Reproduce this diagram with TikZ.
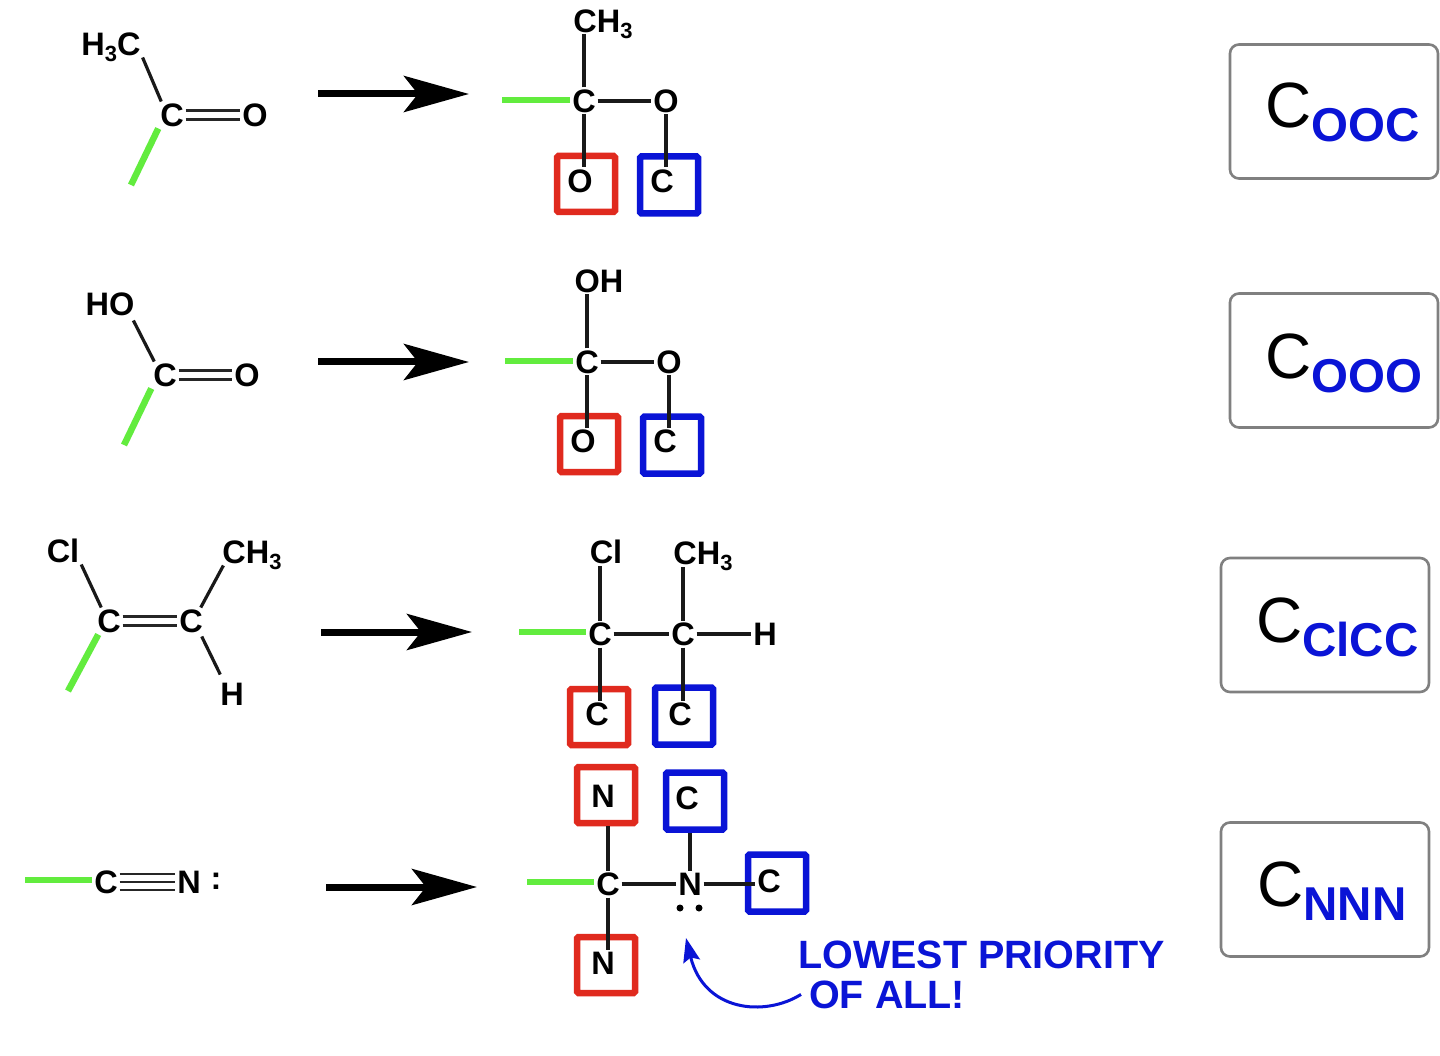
\documentclass[tikz,border=0pt]{standalone}
\usepackage{fontspec}
\setmainfont{Liberation Sans}
\newfontfamily\thinfam{Liberation Sans}
\usetikzlibrary{arrows.meta}
\definecolor{grn}{HTML}{62EC3E}
\definecolor{rd}{HTML}{E02A1E}
\definecolor{bl}{HTML}{0A14D6}
\definecolor{frame}{HTML}{808080}
\newcommand{\subn}[1]{\raisebox{-6pt}{\fontsize{22}{22}\selectfont #1}}
\newcommand{\lab}[2]{{\thinfam\fontsize{64}{64}\selectfont #1}\raisebox{-14pt}{\color{bl}\bfseries\fontsize{47.5}{47.5}\selectfont #2}}
\tikzset{
 atom/.style={inner sep=0pt,outer sep=2pt,text height=23pt,text depth=0pt,text=black,font=\bfseries\fontsize{32.5}{32.5}\selectfont},
 bond/.style={line width=3.2pt,black!90},
 dbl/.style={line width=2.8pt,black!85},
 sub/.style={line width=6.5pt,grn,line cap=butt},
 bigarrow/.style={line width=7pt,black,-{Stealth[length=65pt,width=36pt,inset=14pt]}},
 redbox/.style={draw=rd,line width=6.5pt,minimum width=58pt,minimum height=56pt,inner sep=0pt,rounded corners=1.5pt},
 blubox/.style={draw=bl,line width=6.5pt,minimum width=58pt,minimum height=57pt,inner sep=0pt,rounded corners=1.5pt},
 card/.style={draw=frame,line width=2.6pt,rounded corners=9pt,minimum width=208pt,minimum height=134pt,inner sep=0pt,fill=white},
 cardlab/.style={anchor=base west,inner sep=0pt},
 note/.style={text=bl,inner sep=0pt,font=\bfseries\fontsize{39.5}{39.5}\selectfont},
 pair/.style={circle,fill=black,inner sep=0pt,minimum size=7pt},
}
\begin{document}
\begin{tikzpicture}[x=1pt,y=-1pt]
\useasboundingbox (0,0) rectangle (1440,1056);
\fill[white] (0,0) rectangle (1440,1056);
% ---------- boxes ----------
\node[redbox] (r1) at (586,184) {};
\node[blubox] (b1) at (669,185) {};
\node[redbox] (r2) at (589,444) {};
\node[blubox] (b2) at (672,445) {};
\node[redbox] (r3) at (599,717) {};
\node[blubox] (b3) at (684,716) {};
\node[redbox] (r4) at (606,795) {};
\node[blubox] (b4) at (695,801) {};
\node[blubox] (b5) at (777,883) {};
\node[redbox] (r5) at (606,965) {};
% ---------- row 1 ----------
\node[atom] (a1h) at (111,44) {H\subn{3}C};
\node[atom] (a1c) at (172,115) {C};
\node[atom] (a1o) at (255,115) {O};
\coordinate (a1g) at (131,185);
\draw[bond] (a1h.south east) -- ([xshift=3pt]a1c.north west);
\draw[dbl] ([yshift=4.5pt]a1c.east) -- ([yshift=4.5pt]a1o.west);
\draw[dbl] ([yshift=-4.5pt]a1c.east) -- ([yshift=-4.5pt]a1o.west);
\draw[sub] (a1c.south west) -- (a1g);
\coordinate (p1s) at (318,94); \coordinate (p1e) at (469,94);
\draw[bigarrow] (p1s) -- (p1e);
\node[atom] (t1m) at (603,21) {CH\subn{3}};
\node[atom] (t1c) at (584,101) {C};
\node[atom] (t1o) at (666,101) {O};
\node[atom] (t1x) at (580,181) {O};
\node[atom] (t1y) at (662,181) {C};
\coordinate (t1g) at (502,100);
\draw[sub] (t1g) -- (t1g -| t1c.west);
\draw[bond] (t1c.north) -- (t1c.north |- t1m.south);
\draw[bond] (t1c.east) -- (t1o.west);
\draw[bond] (t1c.south) -- (t1c.south |- t1x.north);
\draw[bond] (t1o.south) -- (t1o.south |- t1y.north);
\node[card] (c1) at (1334,111.5) {};
\node[cardlab] (l1) at (1265,128) {\lab{C}{OOC}};
% ---------- row 2 ----------
\node[atom] (a2h) at (110,304) {HO};
\node[atom] (a2c) at (165,375) {C};
\node[atom] (a2o) at (247,375) {O};
\coordinate (a2g) at (124,445);
\draw[bond] ([xshift=-3pt,yshift=-3pt]a2h.south east) -- ([xshift=3pt]a2c.north west);
\draw[dbl] ([yshift=4.5pt]a2c.east) -- ([yshift=4.5pt]a2o.west);
\draw[dbl] ([yshift=-4.5pt]a2c.east) -- ([yshift=-4.5pt]a2o.west);
\draw[sub] (a2c.south west) -- (a2g);
\coordinate (p2s) at (318,362); \coordinate (p2e) at (469,362);
\draw[bigarrow] (p2s) -- (p2e);
\node[atom] (t2m) at (599,281) {OH};
\node[atom] (t2c) at (587,362) {C};
\node[atom] (t2o) at (669,362) {O};
\node[atom] (t2x) at (583,441) {O};
\node[atom] (t2y) at (665,441) {C};
\coordinate (t2g) at (505,361);
\draw[sub] (t2g) -- (t2g -| t2c.west);
\draw[bond] (t2c.north) -- (t2c.north |- t2m.south);
\draw[bond] (t2c.east) -- (t2o.west);
\draw[bond] (t2c.south) -- (t2c.south |- t2x.north);
\draw[bond] (t2o.south) -- (t2o.south |- t2y.north);
\node[card] (c2) at (1334,360.5) {};
\node[cardlab] (l2) at (1265,378) {\lab{C}{OOO}};
% ---------- row 3 ----------
\node[atom] (a3l) at (63,551) {Cl};
\node[atom] (a3m) at (252,552) {CH\subn{3}};
\node[atom] (a3c) at (109,621) {C};
\node[atom] (a3d) at (191,621) {C};
\node[atom] (a3h) at (232,694) {H};
\coordinate (a3g) at (68,691);
\draw[bond] (a3l.south east) -- ([xshift=6pt]a3c.north west);
\draw[bond] ([xshift=3pt]a3m.south west) -- ([xshift=-4pt]a3d.north east);
\draw[bond] ([xshift=-3pt,yshift=-2pt]a3d.south east) -- ([xshift=2pt,yshift=6pt]a3h.north west);
\draw[dbl] ([yshift=4.5pt]a3c.east) -- ([yshift=4.5pt]a3d.west);
\draw[dbl] ([yshift=-4.5pt]a3c.east) -- ([yshift=-4.5pt]a3d.west);
\draw[sub] ([xshift=3pt]a3c.south west) -- (a3g);
\coordinate (p3s) at (321,632); \coordinate (p3e) at (472,632);
\draw[bigarrow] (p3s) -- (p3e);
\node[atom] (t3l) at (606,552) {Cl};
\node[atom] (t3m) at (703,553) {CH\subn{3}};
\node[atom] (t3c) at (600,634) {C};
\node[atom] (t3d) at (683,634) {C};
\node[atom] (t3h) at (765,634) {H};
\node[atom] (t3x) at (597,714) {C};
\node[atom] (t3y) at (680,714) {C};
\coordinate (t3g) at (519,632);
\draw[sub] (t3g) -- (t3g -| t3c.west);
\draw[bond] (t3c.north) -- (t3c.north |- t3l.south);
\draw[bond] (t3d.north) -- (t3d.north |- t3m.south);
\draw[bond] (t3c.east) -- (t3d.west);
\draw[bond] (t3d.east) -- (t3h.west);
\draw[bond] (t3c.south) -- (t3c.south |- t3x.north);
\draw[bond] (t3d.south) -- (t3d.south |- t3y.north);
\node[card] (c3) at (1325,625) {};
\node[cardlab] (l3) at (1256,642) {\lab{C}{ClCC}};
% ---------- row 4 ----------
\node[atom] (a4c) at (106,882) {C};
\node[atom] (a4n) at (189,882) {N};
\node[atom] (a4p) at (216,878) {:};
\coordinate (a4g) at (25,880);
\draw[sub] (a4g) -- (a4g -| a4c.west);
\draw[dbl] ([yshift=8pt]a4c.east) -- ([yshift=8pt]a4n.west);
\draw[dbl] (a4c.east) -- (a4n.west);
\draw[dbl] ([yshift=-8pt]a4c.east) -- ([yshift=-8pt]a4n.west);
\coordinate (p4s) at (326,887); \coordinate (p4e) at (477,887);
\draw[bigarrow] (p4s) -- (p4e);
\node[atom] (t4c) at (608,884) {C};
\node[atom] (t4n) at (690,884) {N};
\node[atom] (t4u) at (603,796) {N};
\node[atom] (t4v) at (687,798) {C};
\node[atom] (t4w) at (769,881) {C};
\node[atom] (t4x) at (603,963) {N};
\node[pair] (d1) at (680,908) {};
\node[pair] (d2) at (699,908) {};
\coordinate (t4g) at (527,882);
\draw[sub] (t4g) -- (t4g -| t4c.west);
\draw[bond] (t4c.east) -- (t4n.west);
\draw[bond] (t4n.east) -- (t4w.west |- t4n.east);
\draw[bond] (t4c.north) -- (r4.south -| t4c.north);
\draw[bond] (t4n.north) -- (b4.south -| t4n.north);
\draw[bond] (t4c.south) -- (t4x.north -| t4c.south);
\node[card] (c4) at (1325,889.5) {};
\node[cardlab] (l4) at (1257,906) {\lab{C}{NNN}};
\node[note,anchor=base west] (n1) at (798,968) {LOWEST PRIORITY};
\node[note,anchor=base west] (n2) at (809,1008) {OF ALL!};
\coordinate (k1) at (686,938);
\draw[bl,line width=3pt,-{Stealth[length=24pt,width=17pt,inset=4pt]}] ([xshift=-8pt]n2.west) .. controls (765,1017) and (704,1012) .. (k1);
\end{tikzpicture}
\end{document}
